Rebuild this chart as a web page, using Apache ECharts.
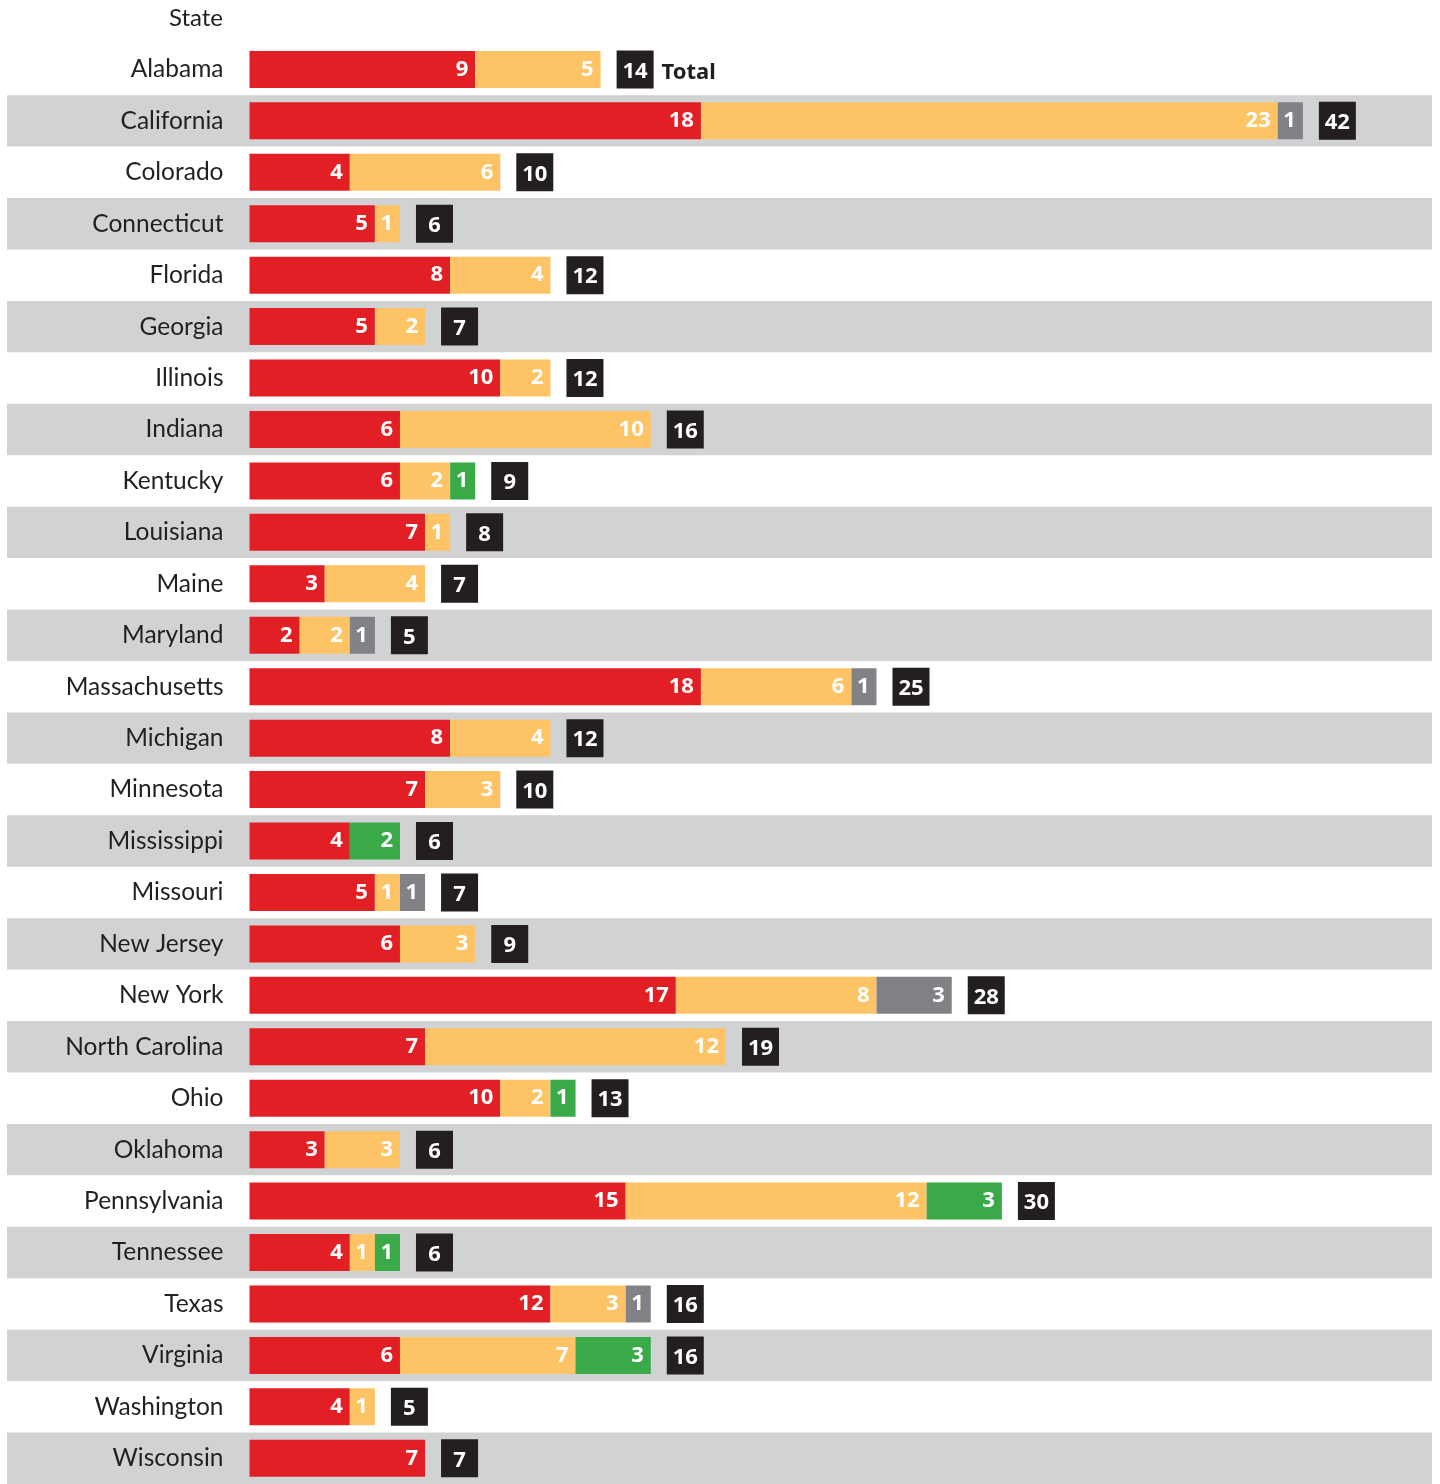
<!DOCTYPE html>
<html>
<head>
<meta charset="utf-8">
<script src="https://cdn.jsdelivr.net/npm/echarts@6/dist/echarts.min.js"></script>
<style>
  html, body { margin: 0; padding: 0; background: #ffffff; }
  #chart { width: 1440px; height: 1484px; }
</style>
</head>
<body>
<div id="chart"></div>
<script>
var states = ['Alabama', 'California', 'Colorado', 'Connecticut', 'Florida', 'Georgia', 'Illinois',
    'Indiana', 'Kentucky', 'Louisiana', 'Maine', 'Maryland', 'Massachusetts', 'Michigan',
    'Minnesota', 'Mississippi', 'Missouri', 'New Jersey', 'New York', 'North Carolina', 'Ohio',
    'Oklahoma', 'Pennsylvania', 'Tennessee', 'Texas', 'Virginia', 'Washington', 'Wisconsin'];
var redVals    = [9, 18, 4, 5, 8, 5, 10, 6, 6, 7, 3, 2, 18, 8, 7, 4, 5, 6, 17, 7, 10, 3, 15, 4, 12, 6, 4, 7];
var yellowVals = [5, 23, 6, 1, 4, 2, 2, 10, 2, 1, 4, 2, 6, 4, 3, 0, 1, 3, 8, 12, 2, 3, 12, 1, 3, 7, 1, 0];
var grayVals   = [0, 1, 0, 0, 0, 0, 0, 0, 0, 0, 0, 1, 1, 0, 0, 0, 1, 0, 3, 0, 0, 0, 0, 0, 1, 0, 0, 0];
var greenVals  = [0, 0, 0, 0, 0, 0, 0, 0, 1, 0, 0, 0, 0, 0, 0, 2, 0, 0, 0, 0, 1, 0, 3, 1, 0, 3, 0, 0];

var totals = states.map(function (s, i) {
    return redVals[i] + yellowVals[i] + grayVals[i] + greenVals[i];
});

var chart = echarts.init(document.getElementById('chart'));

var rowTop = 43.7;
var rowHeight = 28 * 51.66;
var unit = 25.08;
var boldFont = '"Noto Sans", "DejaVu Sans", sans-serif';

function segLabel() {
    return {
        show: true,
        position: 'insideRight',
        distance: 7,
        color: '#ffffff',
        fontFamily: boldFont,
        fontWeight: 700,
        fontSize: 22,
        padding: [3, 0, 0, 0],
        formatter: function (p) { return p.value > 0 ? String(p.value) : ''; }
    };
}

function segment(name, vals, color) {
    return {
        name: name,
        type: 'bar',
        stack: 'all',
        xAxisIndex: 1,
        yAxisIndex: 1,
        barWidth: 37,
        itemStyle: { color: color },
        label: segLabel(),
        silent: true,
        data: vals
    };
}

var option = {
    backgroundColor: '#ffffff',
    animation: false,
    grid: [
        // stripes behind every row
        { left: 7, width: 1425, top: rowTop, height: rowHeight },
        // bars
        { left: 249.5, width: 46 * unit, top: rowTop, height: rowHeight }
    ],
    graphic: [{
        type: 'text',
        right: 1440 - 223,
        top: 6,
        style: {
            text: 'State',
            fontFamily: 'Lato',
            fontSize: 24,
            fill: '#231f20'
        }
    }],
    xAxis: [
        { gridIndex: 0, type: 'value', min: 0, max: 1, show: false },
        { gridIndex: 1, type: 'value', min: 0, max: 46, show: false }
    ],
    yAxis: [
        {
            gridIndex: 0,
            type: 'category',
            inverse: true,
            data: states,
            axisLine: { show: false },
            axisTick: { show: false },
            axisLabel: { show: false },
            splitLine: { show: false },
            splitArea: {
                show: true,
                areaStyle: { color: ['rgba(255,255,255,0)', '#d1d2d4'] }
            }
        },
        {
            gridIndex: 1,
            type: 'category',
            inverse: true,
            data: states,
            axisLine: { show: false },
            axisTick: { show: false },
            axisLabel: {
                margin: 26,
                fontFamily: 'Lato',
                fontSize: 24.5,
                color: '#231f20',
                padding: [5, 0, 0, 0]
            }
        }
    ],
    series: [
        segment('Red', redVals, '#e31f26'),
        segment('Yellow', yellowVals, '#fdc364'),
        segment('Gray', grayVals, '#818285'),
        segment('Green', greenVals, '#3aaa49'),
        {
            name: 'Total',
            type: 'scatter',
            xAxisIndex: 1,
            yAxisIndex: 1,
            symbolSize: 0,
            silent: true,
            itemStyle: { opacity: 1 },
            data: totals.map(function (t, i) { return [t, i]; }),
            label: {
                show: true,
                position: 'right',
                distance: 16,
                opacity: 1,
                formatter: function (p) {
                    var s = '{box|' + p.value[0] + '}';
                    if (p.dataIndex === 0) s += '{t|Total}';
                    return s;
                },
                rich: {
                    box: {
                        backgroundColor: '#231f20',
                        color: '#ffffff',
                        fontFamily: boldFont,
                        fontWeight: 700,
                        fontSize: 22,
                        width: 25,
                        height: 26,
                        lineHeight: 30,
                        align: 'center',
                        padding: [8, 6, 4, 6]
                    },
                    t: {
                        color: '#231f20',
                        fontFamily: boldFont,
                        fontWeight: 700,
                        fontSize: 22,
                        padding: [7, 0, 0, 8]
                    }
                }
            }
        }
    ]
};

chart.setOption(option);
</script>
</body>
</html>
